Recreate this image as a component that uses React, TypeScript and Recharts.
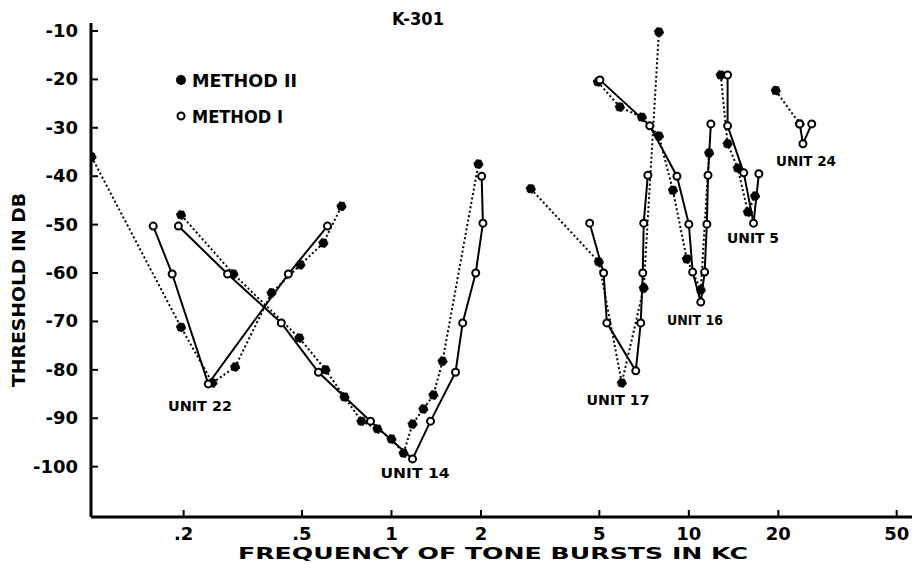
import { LineChart, Line, XAxis, YAxis } from 'recharts';

// frequency (kc), threshold (dB) pairs
const unit22MethodII: [number, number][] = [
  [0.098, -36], [0.196, -71.2], [0.25, -82.7], [0.298, -79.4],
  [0.395, -64.1], [0.494, -58.3], [0.59, -53.8], [0.679, -46.2],
];
const unit22MethodI: [number, number][] = [
  [0.158, -50.3], [0.183, -60.2], [0.242, -82.9], [0.45, -60.2], [0.609, -50.3],
];
const unit14MethodII: [number, number][] = [
  [0.196, -48], [0.294, -60.2], [0.49, -73.4], [0.6, -80], [0.695, -85.6],
  [0.792, -90.6], [0.897, -92.2], [1.0, -94.3], [1.098, -97.2], [1.177, -91.2],
  [1.28, -88.1], [1.384, -85.2], [1.485, -78.2], [1.96, -37.5],
];
const unit14MethodI: [number, number][] = [
  [0.192, -50.3], [0.281, -60.2], [0.426, -70.3], [0.568, -80.5], [0.85, -90.6],
  [1.177, -98.4], [1.353, -90.6], [1.642, -80.5], [1.735, -70.3], [1.92, -60],
  [2.03, -49.7], [2.01, -40],
];
const unit17MethodII: [number, number][] = [
  [2.94, -42.6], [4.98, -57.7], [5.95, -82.7], [7.05, -63.1], [7.93, -10.2],
];
const unit17MethodI: [number, number][] = [
  [4.64, -49.7], [5.17, -60], [5.3, -70.3], [6.63, -80.2], [6.89, -70.3],
  [7.0, -60], [7.05, -49.7], [7.28, -39.8],
];
const unit16MethodII: [number, number][] = [
  [4.94, -20.5], [5.86, -25.7], [6.95, -27.8], [7.93, -31.7], [8.84, -42.9],
  [9.84, -57.1], [10.97, -63.5], [11.7, -35.2],
];
const unit16MethodI: [number, number][] = [
  [5.02, -20.1], [7.39, -29.6], [9.12, -40], [10.0, -49.9], [10.3, -59.8],
  [10.97, -66], [11.3, -59.8], [11.5, -49.9], [11.6, -39.8], [11.86, -29.2],
];
const unit5MethodII: [number, number][] = [
  [12.8, -19.1], [13.5, -33.3], [14.6, -38.3], [15.8, -47.4], [16.7, -44.1],
];
const unit5MethodI: [number, number][] = [
  [13.5, -19.1], [13.5, -29.6], [15.3, -39.3], [16.5, -49.7], [17.2, -39.5],
];
const unit24MethodII: [number, number][] = [[19.6, -22.3], [23.6, -29.2]];
const unit24MethodI: [number, number][] = [[23.6, -29.2], [24.2, -33.3], [25.9, -29.2]];

const xTicks = [0.2, 0.5, 1, 2, 5, 10, 20, 50];
const yTicks = [-10, -20, -30, -40, -50, -60, -70, -80, -90, -100];

const methodIISeries = [unit22MethodII, unit14MethodII, unit17MethodII, unit16MethodII, unit5MethodII, unit24MethodII];
const methodISeries = [unit22MethodI, unit14MethodI, unit17MethodI, unit16MethodI, unit5MethodI, unit24MethodI];

const toRows = (pts: [number, number][]) => pts.map(([f, db]) => ({ f, db }));

const FONT = '"DejaVu Sans", sans-serif';
const PLOT_LEFT = 91;
const PLOT_BOTTOM = 517;

const YTick = (props: any) => {
  const { y, payload } = props;
  return (
    <g>
      <line x1={PLOT_LEFT} x2={PLOT_LEFT + 7} y1={y} y2={y} stroke="#000" strokeWidth={2} />
      <text x={78} y={y + 6} textAnchor="end" fontFamily={FONT} fontWeight="bold" fontSize={18} fill="#000">
        {`-${Math.abs(payload.value)}`}
      </text>
    </g>
  );
};

const XTick = (props: any) => {
  const { x, payload } = props;
  const v = payload.value;
  const label = v < 1 ? `.${Math.round(v * 10)}` : `${v}`;
  return (
    <g>
      <line x1={x} x2={x} y1={PLOT_BOTTOM} y2={PLOT_BOTTOM - 7} stroke="#000" strokeWidth={2} />
      <text x={x} y={540} textAnchor="middle" fontFamily={FONT} fontWeight="bold" fontSize={18} fill="#000">
        {label}
      </text>
    </g>
  );
};

const unitLabels = [
  { text: 'UNIT 22', x: 200, y: 411, w: 64 },
  { text: 'UNIT 14', x: 415, y: 478, w: 69 },
  { text: 'UNIT 17', x: 618, y: 405, w: 63 },
  { text: 'UNIT 16', x: 695, y: 325, w: 56 },
  { text: 'UNIT 5', x: 753, y: 243, w: 52 },
  { text: 'UNIT 24', x: 806, y: 166, w: 60 },
];

export default function App() {
  return (
    <div style={{ position: 'absolute', left: 0, top: 0, width: 914, height: 564, background: '#fff' }}>
      <LineChart width={914} height={564} margin={{ top: 23, right: 2, bottom: 0, left: 0 }}>
        <XAxis
          type="number"
          dataKey="f"
          scale="log"
          domain={[0.0976, 56.3]}
          allowDataOverflow
          ticks={xTicks}
          height={47}
          axisLine={{ stroke: '#000', strokeWidth: 3 }}
          tickLine={false}
          tick={<XTick />}
          interval={0}
        />
        <YAxis
          type="number"
          dataKey="db"
          domain={[-110.4, -8.35]}
          allowDataOverflow
          ticks={yTicks}
          width={91}
          axisLine={{ stroke: '#000', strokeWidth: 3 }}
          tickLine={false}
          tick={<YTick />}
          interval={0}
        />
        {methodIISeries.map((pts, i) => (
          <Line
            key={`m2-${i}`}
            data={toRows(pts)}
            dataKey="db"
            type="linear"
            stroke="#000"
            strokeWidth={2}
            strokeDasharray="2 2.5"
            dot={{ r: 4.5, fill: '#000', stroke: '#000', strokeWidth: 1 }}
            isAnimationActive={false}
          />
        ))}
        {methodISeries.map((pts, i) => (
          <Line
            key={`m1-${i}`}
            data={toRows(pts)}
            dataKey="db"
            type="linear"
            stroke="#000"
            strokeWidth={2}
            dot={{ r: 3.5, fill: '#fff', stroke: '#000', strokeWidth: 2 }}
            isAnimationActive={false}
          />
        ))}
      </LineChart>
      <svg width={914} height={564} style={{ position: 'absolute', left: 0, top: 0, pointerEvents: 'none' }}>
        <g fontFamily={FONT} fontWeight="bold" fill="#000">
          <text x={418} y={25} textAnchor="middle" fontSize={17} textLength={52} lengthAdjust="spacingAndGlyphs">K-301</text>
          <circle cx={181} cy={80} r={5} fill="#000" />
          <text x={192} y={87} fontSize={17} textLength={105} lengthAdjust="spacingAndGlyphs">METHOD II</text>
          <circle cx={181} cy={116} r={3.5} fill="#fff" stroke="#000" strokeWidth={2} />
          <text x={192} y={123} fontSize={17} textLength={91} lengthAdjust="spacingAndGlyphs">METHOD I</text>
          {unitLabels.map((u) => (
            <text key={u.text} x={u.x} y={u.y} textAnchor="middle" fontSize={14} textLength={u.w} lengthAdjust="spacingAndGlyphs">
              {u.text}
            </text>
          ))}
          <text
            x={0}
            y={0}
            transform="translate(25, 290) rotate(-90)"
            textAnchor="middle"
            fontSize={17}
            textLength={194}
            lengthAdjust="spacingAndGlyphs"
          >
            THRESHOLD IN DB
          </text>
          <text x={493} y={559} textAnchor="middle" fontSize={16} textLength={510} lengthAdjust="spacingAndGlyphs">
            FREQUENCY OF TONE BURSTS IN KC
          </text>
        </g>
      </svg>
    </div>
  );
}
